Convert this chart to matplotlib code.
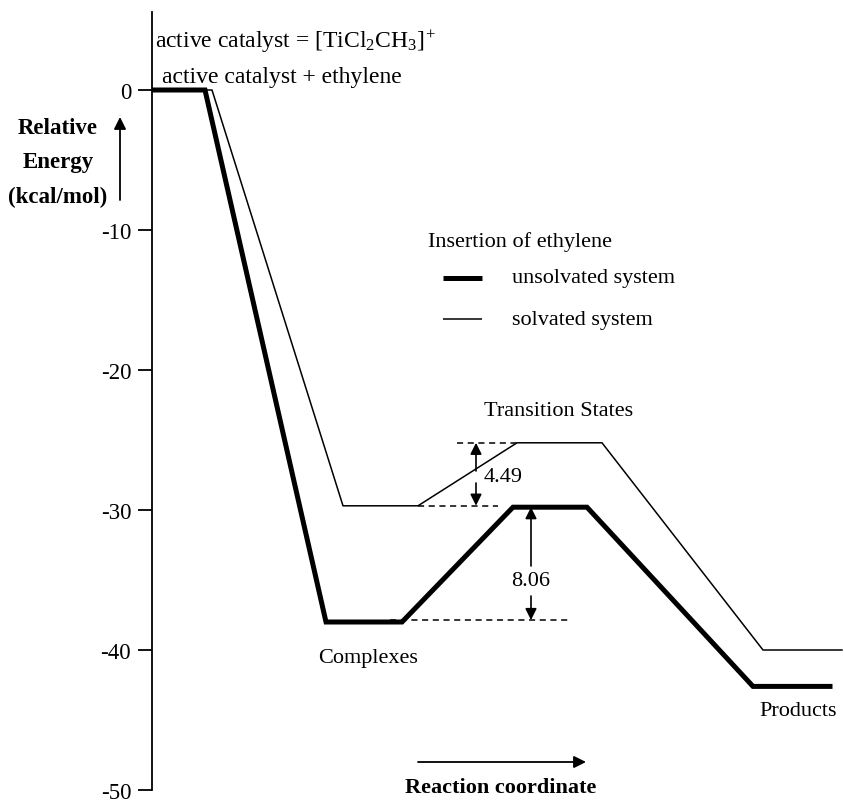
import matplotlib
matplotlib.use("Agg")
from matplotlib import pyplot as plt

plt.rcParams['font.family'] = ['Liberation Serif', 'DejaVu Serif']
plt.rcParams['mathtext.fontset'] = 'custom'
plt.rcParams['mathtext.rm'] = 'Liberation Serif'
plt.rcParams['mathtext.it'] = 'Liberation Serif:italic'
plt.rcParams['mathtext.bf'] = 'Liberation Serif:bold'

# reaction coordinate positions (arbitrary units) and relative energies (kcal/mol)
unsolv_x = [152, 205, 326, 402, 513, 587, 753, 830]
unsolv_e = [0, 0, -38.0, -38.0, -29.8, -29.8, -42.6, -42.6]
solv_x = [152, 212, 343, 418, 517, 602, 763, 842]
solv_e = [0, 0, -29.7, -29.7, -25.2, -25.2, -40.0, -40.0]

barrier_solv = 4.49
barrier_unsolv = 8.06

yticks = [0, -10, -20, -30, -40, -50]
ytick_labels = ["0", "-10", "-20", "-30", "-40", "-50"]


def e(ypx):
    # pixel row -> energy, used only for placing text
    return -(ypx - 91) / 14


fig = plt.figure(figsize=(8.45, 8.03), dpi=100)
ax = fig.add_axes([152 / 845, 12 / 803, (845 - 152) / 845, (791 - 13) / 803])
ax.set_xlim(152, 845)
ax.set_ylim(-50, e(13))

ax.plot(unsolv_x, unsolv_e, color='black', lw=3.6, solid_joinstyle='miter')
ax.plot(solv_x, solv_e, color='black', lw=1.1)

# axis styling
for s in ['top', 'right', 'bottom']:
    ax.spines[s].set_visible(False)
ax.spines['left'].set_linewidth(1.3)
ax.set_xticks([])
ax.set_yticks(yticks)
ax.set_yticklabels(ytick_labels, fontsize=16.5)
ax.tick_params(axis='y', length=10, width=1.3, pad=5)

# barrier marks, solvated
ts_s = solv_e[4]
cx_s = ts_s - barrier_solv
ax.plot([457, 517], [ts_s, ts_s], 'k--', lw=1.1, dashes=(4, 3))
ax.plot([418, 498], [cx_s, cx_s], 'k--', lw=1.1, dashes=(4, 3))
arr = dict(arrowstyle='-|>', color='black', lw=1.2, mutation_scale=17, shrinkA=0, shrinkB=0)
ax.annotate('', xy=(476, ts_s), xytext=(476, e(472)), arrowprops=arr)
ax.annotate('', xy=(476, cx_s), xytext=(476, e(484)), arrowprops=arr)
ax.text(484, e(478), f"{barrier_solv:.2f}", fontsize=16, va='center', ha='left')

# barrier marks, unsolvated
ts_u = unsolv_e[4]
cx_u = ts_u - barrier_unsolv
ax.plot([390, 568], [cx_u, cx_u], 'k--', lw=1.1, dashes=(4, 3))
ax.annotate('', xy=(531, ts_u), xytext=(531, e(567)), arrowprops=arr)
ax.annotate('', xy=(531, cx_u), xytext=(531, e(597)), arrowprops=arr)
ax.text(531, e(582), f"{barrier_unsolv:.2f}", fontsize=16, va='center', ha='center')

# labels
ax.text(155, e(42), r"active catalyst = [TiCl$_2$CH$_3$]$^{\!+}$", fontsize=17, va='center', ha='left')
ax.text(162, e(77), "active catalyst + ethylene", fontsize=17, va='center', ha='left')
ax.text(559, e(412), "Transition States", fontsize=16, va='center', ha='center')
ax.text(368, e(659), "Complexes", fontsize=16, va='center', ha='center')
ax.text(798, e(712), "Products", fontsize=16, va='center', ha='center')

# legend
ax.text(428, e(242), "Insertion of ethylene", fontsize=16, va='center', ha='left')
ax.plot([443, 482], [e(279), e(279)], color='black', lw=3.6, solid_capstyle='butt')
ax.text(512, e(279), "unsolvated system", fontsize=16, va='center', ha='left')
ax.plot([443, 482], [e(320), e(320)], color='black', lw=1.1, solid_capstyle='butt')
ax.text(512, e(320), "solvated system", fontsize=16, va='center', ha='left')

# y label with arrow
ax.text(58, e(163), "Relative\nEnergy\n(kcal/mol)", fontsize=16.5, fontweight='bold',
        va='center', ha='center', linespacing=1.85, clip_on=False)
ax.annotate('', xy=(120, e(118)), xytext=(120, e(201)), annotation_clip=False,
            arrowprops=dict(arrowstyle='-|>', color='black', lw=1.3, mutation_scale=18,
                            shrinkA=0, shrinkB=0))

# reaction coordinate arrow
ax.annotate('', xy=(586, e(763)), xytext=(418, e(763)), annotation_clip=False,
            arrowprops=dict(arrowstyle='-|>', color='black', lw=1.3, mutation_scale=18,
                            shrinkA=0, shrinkB=0))
ax.text(501, e(788), "Reaction coordinate", fontsize=16, fontweight='bold',
        va='center', ha='center', clip_on=False)

fig.savefig("out.png", dpi=100)
